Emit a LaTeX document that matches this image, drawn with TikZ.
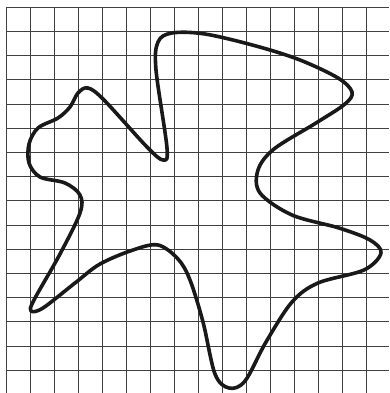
\documentclass[tikz,border=0pt]{standalone}
\usepackage{tikz}

\begin{document}
\begin{tikzpicture}[
    x=1pt, y=-1pt,
    gridline/.style={draw=black!75, line width=0.9pt},
    outline/.style={draw=black!90, line width=3.6pt, line join=round}
]
\useasboundingbox (0,0) rectangle (389,393);
% grid
\foreach \k in {0,...,15}{
  \draw[gridline] ({6+24.05*\k},7) -- ({6+24.05*\k},393);
  \draw[gridline] (6,{7.3+24.2*\k}) -- (389,{7.3+24.2*\k});
}
% closed curve
\draw[outline] plot[smooth cycle, tension=0.55] coordinates {
  (172,33) (205,34) (256,46) (300,60) (338,78) (352,92) (345,104)
  (316,123) (274,149) (258,170) (260,193) (292,215) (339,228)
  (370,240) (381,253) (364,270) (318,283) (292,302) (266,342)
  (245,381) (229,388) (215,374) (203,322) (190,280) (178,259)
  (158,245) (133,250) (100,264) (75,283) (43,308) (31,311)
  (34,300) (60,254) (80,213) (80,195) (65,183) (40,177) (29,163)
  (29,144) (38,128) (58,118) (70,107) (78,93) (88,88) (104,100)
  (147,147) (163,160) (167,148) (156,70) (158,42)
};
\end{tikzpicture}
\end{document}
